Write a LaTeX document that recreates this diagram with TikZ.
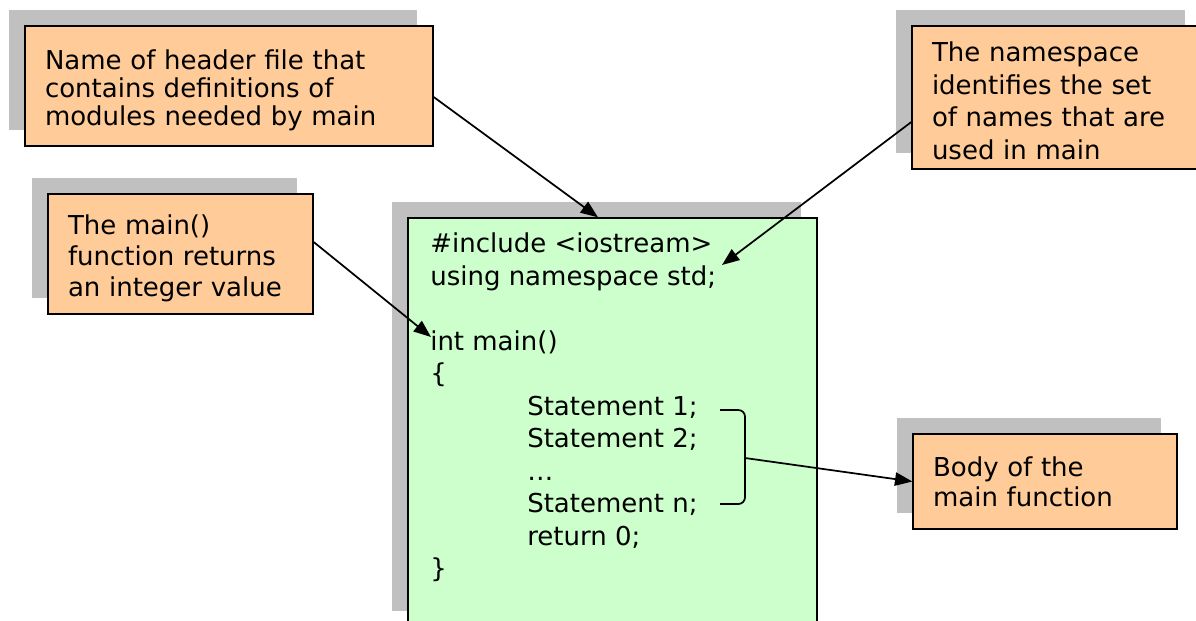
\documentclass[tikz,border=0pt]{standalone}
\usepackage{fontspec}
\setmainfont{DejaVu Sans}
\usetikzlibrary{calc,shadows,arrows.meta}

\definecolor{notefill}{HTML}{FFCC99}
\definecolor{codefill}{HTML}{CCFFCC}
\definecolor{shade}{HTML}{C0C0C0}

\newcommand{\lift}[1]{\rule{0pt}{#1}}

\tikzset{
  boxed/.style={draw=black,line width=1pt,drop shadow={shadow xshift=-12pt,shadow yshift=12pt,fill=shade,opacity=1}},
  note/.style={boxed,fill=notefill,align=left,inner xsep=15pt,inner ysep=0pt,font=\fontsize{19.5pt}{22.5pt}\selectfont},
  codeline/.style={anchor=base west,inner sep=0pt,font=\fontsize{19.5pt}{24.5pt}\selectfont},
  pointer/.style={line width=1.3pt,-{Triangle[length=13pt,width=10pt]}}
}

\begin{document}
\begin{tikzpicture}[x=0.75pt,y=-0.75pt]
\useasboundingbox (0,0) rectangle (1196,621);
\clip (0,0) rectangle (1196,621);

\node[boxed,fill=codefill,minimum width=306.75pt,minimum height=306.75pt] (code) at (612.5,422.5) {};

\node[note,text width=276pt,minimum height=90pt,font=\fontsize{19.5pt}{21pt}\selectfont] (hdr) at (229,86) {\lift{22pt}Name of header file that\\contains definitions of\\modules needed by main};
\node[note,text width=186.75pt,minimum height=107.25pt,font=\fontsize{19.5pt}{24.5pt}\selectfont] (nsp) at (1056.5,97.5) {\lift{20pt}The namespace\\identifies the set\\of names that are\\used in main};
\node[note,text width=168.75pt,minimum height=90pt,font=\fontsize{19.5pt}{23.25pt}\selectfont] (ret3) at (180.5,254) {\lift{22pt}The main()\\function returns\\an integer value};
\node[note,text width=168pt,minimum height=71.25pt] (bdy) at (1045,481.5) {Body of the\\main function};

\node[codeline] (inc) at (430,252) {\#include <iostream>};
\node[codeline] (usng) at (430,285) {using namespace std;};
\node[codeline] (intm) at (430,350) {int main()};
\node[codeline] (lbr) at (430,382) {\{};
\node[codeline] (st1) at (527,415) {Statement 1;};
\node[codeline] (st2) at (527,447) {Statement 2;};
\node[codeline] (stdots) at (527,480) {…};
\node[codeline] (stn) at (527,512) {Statement n;};
\node[codeline] (ret) at (527,545) {return 0;};
\node[codeline] (rbr) at (430,577) {\}};

\coordinate (hdrend) at ($(code.north)+(-14.5,0)$);
\coordinate (nspend) at (722,265);
\coordinate (intend) at (431,337);
\coordinate (brc) at (745,458);

\draw[line width=1.3pt,rounded corners=5pt] (720,410) -- (745,410) -- (745,504) -- (720,504);

\draw[pointer] ($(hdr.east)+(0,11)$) -- (hdrend);
\draw[pointer] ($(nsp.west)+(0,24.5)$) -- (nspend);
\draw[pointer] ($(ret3.east)+(0,-12)$) -- (intend);
\draw[pointer] (brc) -- (bdy.west);

\end{tikzpicture}
\end{document}
